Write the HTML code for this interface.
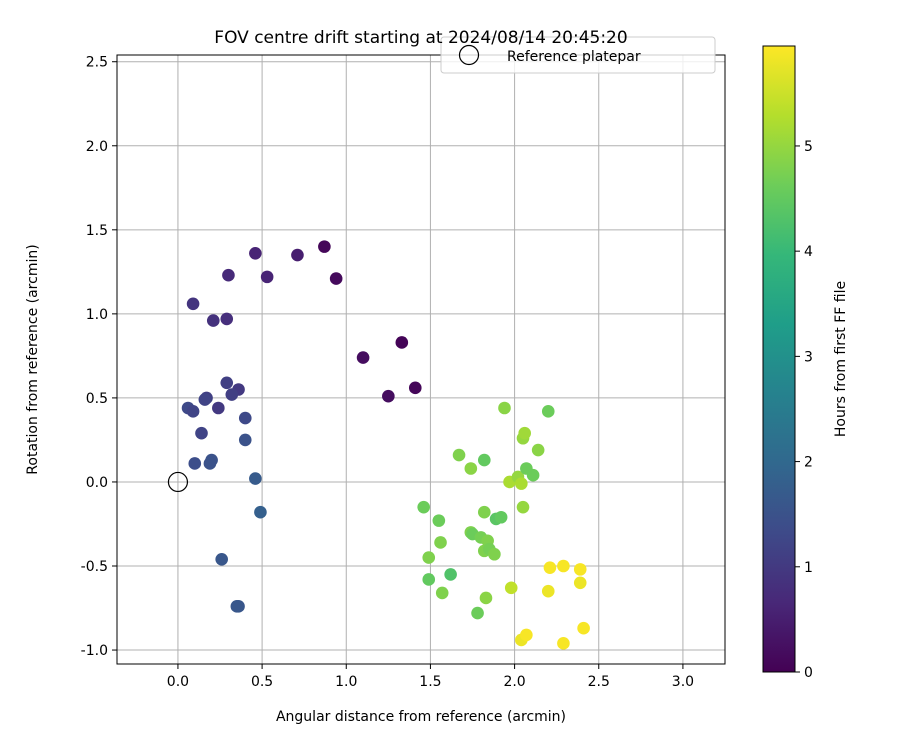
<!DOCTYPE html>
<html><head><meta charset="utf-8"><style>
body{margin:0;background:#fff;font-family:"Liberation Sans","DejaVu Sans",sans-serif}
</style></head><body>
<svg id="c" width="900" height="750" xmlns="http://www.w3.org/2000/svg" font-family="DejaVu Sans, Liberation Sans, sans-serif"></svg>
<script>
const xs=[0.87,0.94,1.10,1.33,1.25,1.41,0.71,0.53,0.46,0.30,0.29,0.21,0.09,0.29,0.36,0.32,0.24,0.17,0.16,0.06,0.09,0.14,0.40,0.40,0.10,0.20,0.19,0.46,0.49,0.26,0.36,0.35,1.46,1.55,1.56,1.49,1.49,1.57,1.62,1.67,1.74,1.74,1.75,1.78,1.82,1.82,1.80,1.82,1.84,1.85,1.88,1.83,1.89,1.92,1.94,1.98,1.97,2.02,2.04,2.05,2.06,2.07,2.11,2.05,2.14,2.20,2.21,2.29,2.39,2.39,2.20,2.04,2.07,2.29,2.41];
const ys=[1.40,1.21,0.74,0.83,0.51,0.56,1.35,1.22,1.36,1.23,0.97,0.96,1.06,0.59,0.55,0.52,0.44,0.50,0.49,0.44,0.42,0.29,0.38,0.25,0.11,0.13,0.11,0.02,-0.18,-0.46,-0.74,-0.74,-0.15,-0.23,-0.36,-0.45,-0.58,-0.66,-0.55,0.16,0.08,-0.30,-0.31,-0.78,0.13,-0.18,-0.33,-0.41,-0.35,-0.40,-0.43,-0.69,-0.22,-0.21,0.44,-0.63,0.00,0.03,-0.01,0.26,0.29,0.08,0.04,-0.15,0.19,0.42,-0.51,-0.50,-0.52,-0.60,-0.65,-0.94,-0.91,-0.96,-0.87];
const hours=[0.1,0.15,0.2,0.05,0.2,0.1,0.5,0.6,0.6,0.7,0.8,0.85,0.9,1.1,1.0,1.1,1.0,1.1,1.2,1.3,1.2,1.2,1.3,1.5,1.4,1.5,1.5,1.7,1.8,1.6,1.6,1.6,4.6,4.6,4.8,4.8,4.5,4.8,4.3,4.8,4.9,4.8,4.6,4.6,4.5,4.8,4.7,4.8,4.8,4.7,4.8,4.9,4.4,4.5,4.9,5.4,5.2,5.0,5.2,5.0,5.1,4.6,4.6,5.0,4.9,4.6,5.9,5.9,5.9,5.8,5.8,5.8,5.9,5.9,5.9];
const xTicks=[0,0.5,1,1.5,2,2.5,3];
const yTicks=[-1,-0.5,0,0.5,1,1.5,2,2.5];
const cTicks=[0,1,2,3,4,5];
const hMax=5.95;
const X0=117,X1=725,Y0=55,Y1=664,xmin=-0.362,xmax=3.25,ymin=-1.083,ymax=2.54;
const sx=v=>X0+(v-xmin)/(xmax-xmin)*(X1-X0);
const sy=v=>Y1-(v-ymin)/(ymax-ymin)*(Y1-Y0);
const vir=[[68,1,84],[72,40,120],[62,74,137],[49,104,142],[38,130,142],[31,158,137],[53,183,121],[109,205,89],[180,222,44],[253,231,37]];
function cmap(t){t=Math.max(0,Math.min(1,t))*9;const i=Math.min(8,Math.floor(t)),f=t-i,a=vir[i],b=vir[i+1];return`rgb(${a.map((v,k)=>Math.round(v+(b[k]-v)*f)).join(',')})`;}
const svg=document.getElementById('c');const NS='http://www.w3.org/2000/svg';
function el(t,at,p,txt){if(typeof p==='string'){txt=p;p=null;}const e=document.createElementNS(NS,t);for(const k in at)e.setAttribute(k,at[k]);if(txt!==undefined)e.textContent=txt;(p||svg).appendChild(e);return e;}
xTicks.forEach(v=>{const g=el('line',{x1:sx(v),x2:sx(v),y1:Y0,y2:Y1,stroke:'#b0b0b0','stroke-width':1});
el('line',{x1:sx(v),x2:sx(v),y1:Y1,y2:Y1+5,stroke:'#000'});
const l=el('text',{x:sx(v),y:Y1+22,'text-anchor':'middle','font-size':14},v.toFixed(1));});
yTicks.forEach(v=>{const g=el('line',{x1:X0,x2:X1,y1:sy(v),y2:sy(v),stroke:'#b0b0b0','stroke-width':1});
el('line',{x1:X0-5,x2:X0,y1:sy(v),y2:sy(v),stroke:'#000'});
const l=el('text',{x:X0-9,y:sy(v)+5,'text-anchor':'end','font-size':14},v.toFixed(1));});
xs.forEach((x,i)=>{const c=el('circle',{cx:sx(x),cy:sy(ys[i]),r:6.3,fill:cmap(hours[i]/hMax)});});
const rp=el('circle',{cx:sx(0),cy:sy(0),r:9.5,fill:'none',stroke:'#000','stroke-width':1.2});
const fr=el('rect',{x:X0,y:Y0,width:X1-X0,height:Y1-Y0,fill:'none',stroke:'#000','stroke-width':1});
const lg=el('g',{});
el('rect',{x:441,y:37,width:274,height:36,rx:3,fill:'#fff','fill-opacity':0.8,stroke:'#ccc'},lg);
el('circle',{cx:469,cy:55,r:9.5,fill:'none',stroke:'#000','stroke-width':1.2},lg);
el('text',{x:507,y:61,'font-size':14},lg,'Reference platepar');
const tt=el('text',{x:421,y:43,'text-anchor':'middle','font-size':17},'FOV centre drift starting at 2024/08/14 20:45:20');
const xt=el('text',{x:421,y:721,'text-anchor':'middle','font-size':14},'Angular distance from reference (arcmin)');
const yt=el('text',{x:0,y:0,'text-anchor':'middle','font-size':14,transform:`translate(37,${(Y0+Y1)/2}) rotate(-90)`},'Rotation from reference (arcmin)');
const C0=46,C1=672,CX=763,CW=32;
const defs=el('defs',{});const gr=el('linearGradient',{id:'vg',x1:0,y1:1,x2:0,y2:0},defs);
vir.forEach((c,i)=>el('stop',{offset:(i/9),'stop-color':`rgb(${c.join(',')})`},gr));
const cb=el('rect',{x:CX,y:C0,width:CW,height:C1-C0,fill:'url(#vg)',stroke:'#000'});
const cy=v=>C1-v/hMax*(C1-C0);
cTicks.forEach(v=>{el('line',{x1:CX+CW,x2:CX+CW+5,y1:cy(v),y2:cy(v),stroke:'#000'});const l=el('text',{x:CX+CW+9,y:cy(v)+5,'font-size':14},String(v));});
const ct=el('text',{x:0,y:0,'text-anchor':'middle','font-size':14,transform:`translate(845,${(C0+C1)/2}) rotate(-90)`},'Hours from first FF file');
</script>
</body></html>
